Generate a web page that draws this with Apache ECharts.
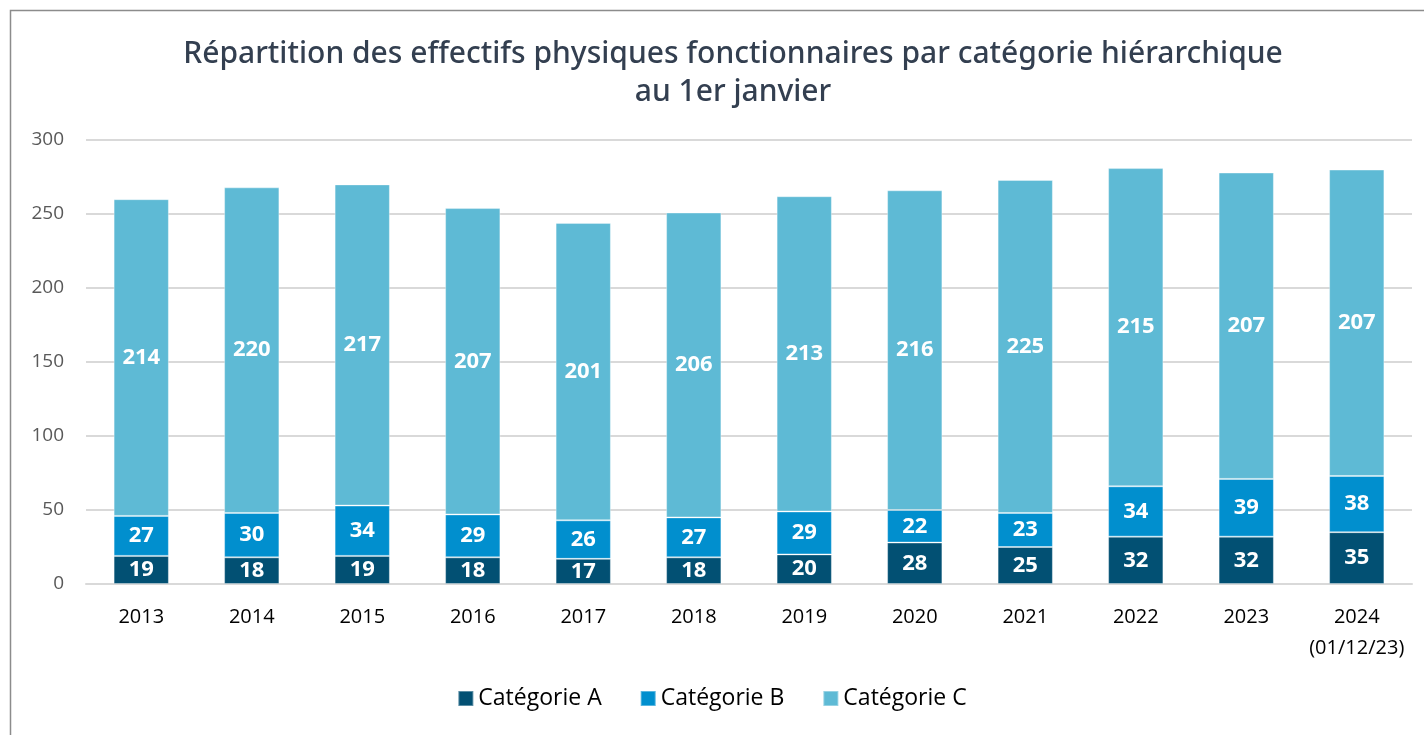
<!DOCTYPE html>
<html>
<head>
<meta charset="utf-8">
<script src="https://cdn.jsdelivr.net/npm/echarts@6/dist/echarts.min.js"></script>
<style>
  html, body { margin: 0; padding: 0; background: #fff; }
  #chart1 { width: 1424px; height: 735px; }
</style>
</head>
<body>
<div id="chart1"></div>
<script>
var years = ['2013', '2014', '2015', '2016', '2017', '2018', '2019', '2020', '2021', '2022', '2023', '2024\n(01/12/23)'];
var catA = [19, 18, 19, 18, 17, 18, 20, 28, 25, 32, 32, 35];
var catB = [27, 30, 34, 29, 26, 27, 29, 22, 23, 34, 39, 38];
var catC = [214, 220, 217, 207, 201, 206, 213, 216, 225, 215, 207, 207];
var yTicks = [0, 50, 100, 150, 200, 250, 300];

(function(){
    var chart1 = echarts.init(document.getElementById('chart1'));

    function serie(name, data, color){
        return {
            name: name,
            type: 'bar',
            stack: 'total',
            barWidth: '50%',
            data: data,
            itemStyle: { color: color, borderColor: 'rgba(255,255,255,0.35)', borderWidth: 1 },
            label: {
                show: true,
                position: 'inside',
                color: '#fff',
                fontFamily: 'Open Sans',
                fontWeight: 'bold',
                fontSize: 22
            }
        };
    }

    var option = {
        animation: false,
        title: {
            text: 'Répartition des effectifs physiques fonctionnaires par catégorie hiérarchique\nau 1er janvier',
            left: 728,
            textAlign: 'center',
            top: 30,
            textStyle: {
                color: '#333f50',
                fontFamily: 'Noto Sans',
                fontWeight: 500,
                fontSize: 30,
                lineHeight: 38
            }
        },
        legend: {
            bottom: 20,
            left: 'center',
            itemWidth: 15,
            itemHeight: 15,
            itemGap: 38,
            icon: 'rect',
            textStyle: { color: '#000', fontFamily: 'Open Sans', fontSize: 23 },
            data: ['Catégorie A', 'Catégorie B', 'Catégorie C']
        },
        grid: {
            top: 140,
            left: 86,
            right: 12,
            bottom: 151,
            containLabel: false
        },
        xAxis: [{
            type: 'category',
            data: years,
            axisLine: { lineStyle: { color: '#d9d9d9', width: 2 } },
            axisTick: { show: false },
            axisLabel: { interval: 0, color: '#000', fontFamily: 'Open Sans', fontSize: 20, margin: 18, lineHeight: 31 }
        }],
        yAxis: [{
            type: 'value',
            min: yTicks[0],
            max: yTicks[yTicks.length - 1],
            interval: 50,
            axisLine: { show: false },
            axisTick: { show: false },
            splitLine: { lineStyle: { color: '#d9d9d9', width: 2 } },
            axisLabel: { color: '#595959', fontFamily: 'Open Sans', fontSize: 19, margin: 22 }
        }],
        graphic: [{
            type: 'rect',
            shape: { x: 10.5, y: 10.5, width: 1430, height: 740 },
            style: { fill: 'none', stroke: '#8c8c8c', lineWidth: 1.5 },
            silent: true
        }],
        series: [
            serie('Catégorie A', catA, '#025073'),
            serie('Catégorie B', catB, '#018fce'),
            serie('Catégorie C', catC, '#5ebad5')
        ]
    };

    chart1.setOption(option);
    window.onresize = chart1.resize;
})();
</script>
</body>
</html>
